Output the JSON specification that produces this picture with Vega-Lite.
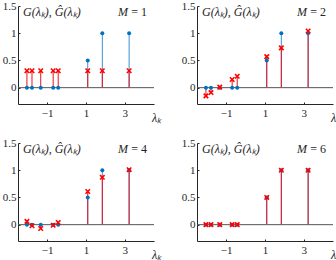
{
  "$schema": "https://vega.github.io/schema/vega-lite/v6.json",
  "padding": {"left": 2, "top": 0, "right": 0, "bottom": 0},
  "background": "white",
  "config": {
    "view": {"stroke": null},
    "font": "Liberation Serif",
    "axis": {
      "grid": false,
      "domainColor": "#262626",
      "tickColor": "#262626",
      "labelColor": "#262626",
      "labelFont": "Liberation Serif",
      "labelFontSize": 11,
      "tickSize": -2,
      "domainWidth": 1
    }
  },
  "datasets": {
    "stems": [
      {"M": 1, "k": 1, "lambda": -2.04, "G": 0, "Ghat": 0.31},
      {"M": 1, "k": 2, "lambda": -1.78, "G": 0, "Ghat": 0.31},
      {"M": 1, "k": 3, "lambda": -1.33, "G": 0, "Ghat": 0.31},
      {"M": 1, "k": 4, "lambda": -0.69, "G": 0, "Ghat": 0.31},
      {"M": 1, "k": 5, "lambda": -0.43, "G": 0, "Ghat": 0.31},
      {"M": 1, "k": 6, "lambda": 1.09, "G": 0.5, "Ghat": 0.31},
      {"M": 1, "k": 7, "lambda": 1.84, "G": 1, "Ghat": 0.31},
      {"M": 1, "k": 8, "lambda": 3.22, "G": 1, "Ghat": 0.31},
      {"M": 2, "k": 1, "lambda": -2.04, "G": 0, "Ghat": -0.15},
      {"M": 2, "k": 2, "lambda": -1.78, "G": 0, "Ghat": -0.09},
      {"M": 2, "k": 3, "lambda": -1.33, "G": 0, "Ghat": 0.01},
      {"M": 2, "k": 4, "lambda": -0.69, "G": 0, "Ghat": 0.15},
      {"M": 2, "k": 5, "lambda": -0.43, "G": 0, "Ghat": 0.21},
      {"M": 2, "k": 6, "lambda": 1.09, "G": 0.5, "Ghat": 0.57},
      {"M": 2, "k": 7, "lambda": 1.84, "G": 1, "Ghat": 0.73},
      {"M": 2, "k": 8, "lambda": 3.22, "G": 1, "Ghat": 1.04},
      {"M": 4, "k": 1, "lambda": -2.04, "G": 0, "Ghat": 0.06},
      {"M": 4, "k": 2, "lambda": -1.78, "G": 0, "Ghat": -0.02},
      {"M": 4, "k": 3, "lambda": -1.33, "G": 0, "Ghat": -0.07},
      {"M": 4, "k": 4, "lambda": -0.69, "G": 0, "Ghat": -0.01},
      {"M": 4, "k": 5, "lambda": -0.43, "G": 0, "Ghat": 0.04},
      {"M": 4, "k": 6, "lambda": 1.09, "G": 0.5, "Ghat": 0.61},
      {"M": 4, "k": 7, "lambda": 1.84, "G": 1, "Ghat": 0.87},
      {"M": 4, "k": 8, "lambda": 3.22, "G": 1, "Ghat": 1.01},
      {"M": 6, "k": 1, "lambda": -2.04, "G": 0, "Ghat": 0},
      {"M": 6, "k": 2, "lambda": -1.78, "G": 0, "Ghat": 0},
      {"M": 6, "k": 3, "lambda": -1.33, "G": 0, "Ghat": 0},
      {"M": 6, "k": 4, "lambda": -0.69, "G": 0, "Ghat": 0},
      {"M": 6, "k": 5, "lambda": -0.43, "G": 0, "Ghat": 0},
      {"M": 6, "k": 6, "lambda": 1.09, "G": 0.5, "Ghat": 0.5},
      {"M": 6, "k": 7, "lambda": 1.84, "G": 1, "Ghat": 1},
      {"M": 6, "k": 8, "lambda": 3.22, "G": 1, "Ghat": 1}
    ]
  },
  "columns": 2,
  "bounds": "flush",
  "spacing": {"row": 39, "column": 43},
  "concat": [
    {
      "data": {"name": "stems"},
      "transform": [{"filter": "datum.M == 1"}],
      "width": 136, "height": 98,
      "encoding": {
        "x": {"field": "lambda", "type": "quantitative", "scale": {"domain": [-2.5, 4.5], "nice": false, "zero": false},
          "axis": {"values": [-1, 1, 3], "labelPadding": 5, "title": "λₖ", "titleFont": "Liberation Serif", "titleFontStyle": "italic", "titleFontWeight": "normal", "titleFontSize": 12, "titleColor": "#262626", "titleX": 138, "titleY": 17, "titleAlign": "center", "titleBaseline": "alphabetic"}},
        "y": {"field": "G", "type": "quantitative", "scale": {"domain": [-0.3, 1.5], "nice": false, "zero": false},
          "axis": {"values": [0, 0.5, 1, 1.5], "format": "~g", "labelPadding": 4, "title": null}}
      },
      "layer": [
        {"mark": {"type": "rule", "color": "#555555", "strokeWidth": 1}, "encoding": {"x": {"value": 0}, "x2": {"value": "width"}, "y": {"datum": 0}}, "transform": [{"filter": "datum.k == 1"}]},
        {"mark": {"type": "rule", "color": "#3b8fd0", "strokeWidth": 1}, "encoding": {"y": {"datum": 0}, "y2": {"field": "G"}}},
        {"mark": {"type": "rule", "color": "#e8141c", "strokeWidth": 1}, "encoding": {"y": {"datum": 0}, "y2": {"field": "Ghat"}}},
        {"mark": {"type": "point", "filled": true, "color": "#0072BD", "size": 16, "opacity": 1}, "encoding": {"y": {"field": "G"}}},
        {"mark": {"type": "point", "shape": "M-1,-1L1,1M1,-1L-1,1", "filled": false, "color": "#ff0000", "size": 20, "strokeWidth": 1.6, "opacity": 1}, "encoding": {"y": {"field": "Ghat"}}},
        {"mark": {"type": "text", "align": "left", "baseline": "top", "fontStyle": "italic", "fontSize": 12, "color": "#262626", "dx": 5, "dy": 1, "text": "G(λₖ), Ĝ(λₖ)"}, "transform": [{"filter": "datum.k == 1"}], "encoding": {"x": {"datum": -2.5}, "y": {"datum": 1.5}}},
        {"mark": {"type": "text", "align": "right", "baseline": "top", "fontSize": 12, "color": "#262626", "dx": -7, "dy": 1}, "transform": [{"filter": "datum.k == 1"}, {"calculate": "'= ' + datum.M", "as": "Mlabel"}], "encoding": {"x": {"datum": 4.5}, "y": {"datum": 1.5}, "text": {"field": "Mlabel"}}},
        {"mark": {"type": "text", "align": "right", "baseline": "top", "fontStyle": "italic", "fontSize": 12, "color": "#262626", "dx": -26, "dy": 1, "text": "M"}, "transform": [{"filter": "datum.k == 1"}], "encoding": {"x": {"datum": 4.5}, "y": {"datum": 1.5}}}
      ]
    },
    {
      "data": {"name": "stems"},
      "transform": [{"filter": "datum.M == 2"}],
      "width": 136, "height": 98,
      "encoding": {
        "x": {"field": "lambda", "type": "quantitative", "scale": {"domain": [-2.5, 4.5], "nice": false, "zero": false},
          "axis": {"values": [-1, 1, 3], "labelPadding": 5, "title": "λₖ", "titleFont": "Liberation Serif", "titleFontStyle": "italic", "titleFontWeight": "normal", "titleFontSize": 12, "titleColor": "#262626", "titleX": 138, "titleY": 17, "titleAlign": "center", "titleBaseline": "alphabetic"}},
        "y": {"field": "G", "type": "quantitative", "scale": {"domain": [-0.3, 1.5], "nice": false, "zero": false},
          "axis": {"values": [0, 0.5, 1, 1.5], "format": "~g", "labelPadding": 4, "title": null}}
      },
      "layer": [
        {"mark": {"type": "rule", "color": "#555555", "strokeWidth": 1}, "encoding": {"x": {"value": 0}, "x2": {"value": "width"}, "y": {"datum": 0}}, "transform": [{"filter": "datum.k == 1"}]},
        {"mark": {"type": "rule", "color": "#3b8fd0", "strokeWidth": 1}, "encoding": {"y": {"datum": 0}, "y2": {"field": "G"}}},
        {"mark": {"type": "rule", "color": "#e8141c", "strokeWidth": 1}, "encoding": {"y": {"datum": 0}, "y2": {"field": "Ghat"}}},
        {"mark": {"type": "point", "filled": true, "color": "#0072BD", "size": 16, "opacity": 1}, "encoding": {"y": {"field": "G"}}},
        {"mark": {"type": "point", "shape": "M-1,-1L1,1M1,-1L-1,1", "filled": false, "color": "#ff0000", "size": 20, "strokeWidth": 1.6, "opacity": 1}, "encoding": {"y": {"field": "Ghat"}}},
        {"mark": {"type": "text", "align": "left", "baseline": "top", "fontStyle": "italic", "fontSize": 12, "color": "#262626", "dx": 5, "dy": 1, "text": "G(λₖ), Ĝ(λₖ)"}, "transform": [{"filter": "datum.k == 1"}], "encoding": {"x": {"datum": -2.5}, "y": {"datum": 1.5}}},
        {"mark": {"type": "text", "align": "right", "baseline": "top", "fontSize": 12, "color": "#262626", "dx": -7, "dy": 1}, "transform": [{"filter": "datum.k == 1"}, {"calculate": "'= ' + datum.M", "as": "Mlabel"}], "encoding": {"x": {"datum": 4.5}, "y": {"datum": 1.5}, "text": {"field": "Mlabel"}}},
        {"mark": {"type": "text", "align": "right", "baseline": "top", "fontStyle": "italic", "fontSize": 12, "color": "#262626", "dx": -26, "dy": 1, "text": "M"}, "transform": [{"filter": "datum.k == 1"}], "encoding": {"x": {"datum": 4.5}, "y": {"datum": 1.5}}}
      ]
    },
    {
      "data": {"name": "stems"},
      "transform": [{"filter": "datum.M == 4"}],
      "width": 136, "height": 98,
      "encoding": {
        "x": {"field": "lambda", "type": "quantitative", "scale": {"domain": [-2.5, 4.5], "nice": false, "zero": false},
          "axis": {"values": [-1, 1, 3], "labelPadding": 5, "title": "λₖ", "titleFont": "Liberation Serif", "titleFontStyle": "italic", "titleFontWeight": "normal", "titleFontSize": 12, "titleColor": "#262626", "titleX": 138, "titleY": 17, "titleAlign": "center", "titleBaseline": "alphabetic"}},
        "y": {"field": "G", "type": "quantitative", "scale": {"domain": [-0.3, 1.5], "nice": false, "zero": false},
          "axis": {"values": [0, 0.5, 1, 1.5], "format": "~g", "labelPadding": 4, "title": null}}
      },
      "layer": [
        {"mark": {"type": "rule", "color": "#555555", "strokeWidth": 1}, "encoding": {"x": {"value": 0}, "x2": {"value": "width"}, "y": {"datum": 0}}, "transform": [{"filter": "datum.k == 1"}]},
        {"mark": {"type": "rule", "color": "#3b8fd0", "strokeWidth": 1}, "encoding": {"y": {"datum": 0}, "y2": {"field": "G"}}},
        {"mark": {"type": "rule", "color": "#e8141c", "strokeWidth": 1}, "encoding": {"y": {"datum": 0}, "y2": {"field": "Ghat"}}},
        {"mark": {"type": "point", "filled": true, "color": "#0072BD", "size": 16, "opacity": 1}, "encoding": {"y": {"field": "G"}}},
        {"mark": {"type": "point", "shape": "M-1,-1L1,1M1,-1L-1,1", "filled": false, "color": "#ff0000", "size": 20, "strokeWidth": 1.6, "opacity": 1}, "encoding": {"y": {"field": "Ghat"}}},
        {"mark": {"type": "text", "align": "left", "baseline": "top", "fontStyle": "italic", "fontSize": 12, "color": "#262626", "dx": 5, "dy": 1, "text": "G(λₖ), Ĝ(λₖ)"}, "transform": [{"filter": "datum.k == 1"}], "encoding": {"x": {"datum": -2.5}, "y": {"datum": 1.5}}},
        {"mark": {"type": "text", "align": "right", "baseline": "top", "fontSize": 12, "color": "#262626", "dx": -7, "dy": 1}, "transform": [{"filter": "datum.k == 1"}, {"calculate": "'= ' + datum.M", "as": "Mlabel"}], "encoding": {"x": {"datum": 4.5}, "y": {"datum": 1.5}, "text": {"field": "Mlabel"}}},
        {"mark": {"type": "text", "align": "right", "baseline": "top", "fontStyle": "italic", "fontSize": 12, "color": "#262626", "dx": -26, "dy": 1, "text": "M"}, "transform": [{"filter": "datum.k == 1"}], "encoding": {"x": {"datum": 4.5}, "y": {"datum": 1.5}}}
      ]
    },
    {
      "data": {"name": "stems"},
      "transform": [{"filter": "datum.M == 6"}],
      "width": 136, "height": 98,
      "encoding": {
        "x": {"field": "lambda", "type": "quantitative", "scale": {"domain": [-2.5, 4.5], "nice": false, "zero": false},
          "axis": {"values": [-1, 1, 3], "labelPadding": 5, "title": "λₖ", "titleFont": "Liberation Serif", "titleFontStyle": "italic", "titleFontWeight": "normal", "titleFontSize": 12, "titleColor": "#262626", "titleX": 138, "titleY": 17, "titleAlign": "center", "titleBaseline": "alphabetic"}},
        "y": {"field": "G", "type": "quantitative", "scale": {"domain": [-0.3, 1.5], "nice": false, "zero": false},
          "axis": {"values": [0, 0.5, 1, 1.5], "format": "~g", "labelPadding": 4, "title": null}}
      },
      "layer": [
        {"mark": {"type": "rule", "color": "#555555", "strokeWidth": 1}, "encoding": {"x": {"value": 0}, "x2": {"value": "width"}, "y": {"datum": 0}}, "transform": [{"filter": "datum.k == 1"}]},
        {"mark": {"type": "rule", "color": "#3b8fd0", "strokeWidth": 1}, "encoding": {"y": {"datum": 0}, "y2": {"field": "G"}}},
        {"mark": {"type": "rule", "color": "#e8141c", "strokeWidth": 1}, "encoding": {"y": {"datum": 0}, "y2": {"field": "Ghat"}}},
        {"mark": {"type": "point", "filled": true, "color": "#0072BD", "size": 16, "opacity": 1}, "encoding": {"y": {"field": "G"}}},
        {"mark": {"type": "point", "shape": "M-1,-1L1,1M1,-1L-1,1", "filled": false, "color": "#ff0000", "size": 20, "strokeWidth": 1.6, "opacity": 1}, "encoding": {"y": {"field": "Ghat"}}},
        {"mark": {"type": "text", "align": "left", "baseline": "top", "fontStyle": "italic", "fontSize": 12, "color": "#262626", "dx": 5, "dy": 1, "text": "G(λₖ), Ĝ(λₖ)"}, "transform": [{"filter": "datum.k == 1"}], "encoding": {"x": {"datum": -2.5}, "y": {"datum": 1.5}}},
        {"mark": {"type": "text", "align": "right", "baseline": "top", "fontSize": 12, "color": "#262626", "dx": -7, "dy": 1}, "transform": [{"filter": "datum.k == 1"}, {"calculate": "'= ' + datum.M", "as": "Mlabel"}], "encoding": {"x": {"datum": 4.5}, "y": {"datum": 1.5}, "text": {"field": "Mlabel"}}},
        {"mark": {"type": "text", "align": "right", "baseline": "top", "fontStyle": "italic", "fontSize": 12, "color": "#262626", "dx": -26, "dy": 1, "text": "M"}, "transform": [{"filter": "datum.k == 1"}], "encoding": {"x": {"datum": 4.5}, "y": {"datum": 1.5}}}
      ]
    }
  ]
}
